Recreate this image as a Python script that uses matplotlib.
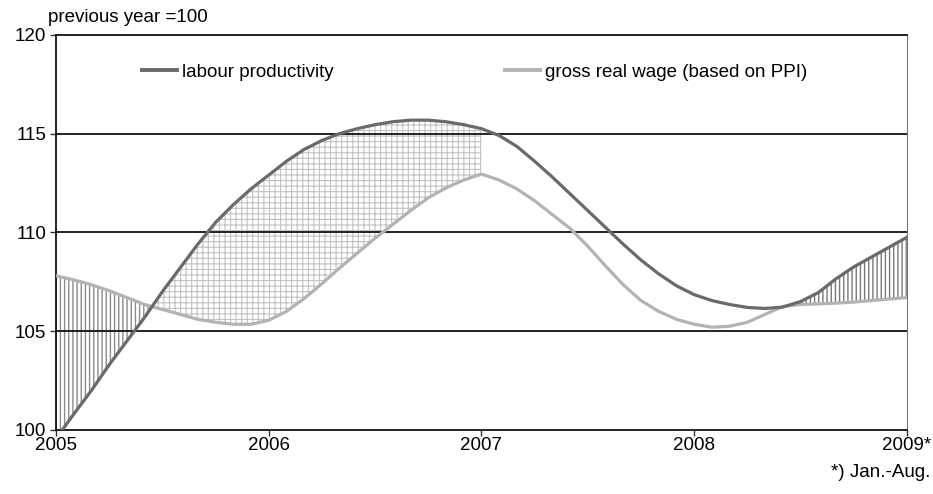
"""
Labour productivity vs. gross real wage, monthly readings 2005 - Aug 2009.
Previous year = 100. Shaded band shows the gap between the two series.
"""

import numpy as np
import matplotlib.pyplot as plt

plt.rcParams["font.family"] = ["Liberation Sans", "DejaVu Sans"]

# ---------- Data (previous year = 100), one value per month ----------

labour_productivity = [
    99.56, 100.8, 102.0, 103.3, 104.5, 105.7, 107.0, 108.2, 109.4, 110.5, 111.4, 112.2,
    112.9, 113.6, 114.2, 114.65, 115.0, 115.25, 115.45, 115.6, 115.68, 115.68, 115.6, 115.45,
    115.25, 114.9, 114.35, 113.6, 112.8, 111.95, 111.1, 110.25, 109.4, 108.6, 107.9, 107.3,
    106.85, 106.55, 106.35, 106.2, 106.15, 106.22, 106.5, 106.95, 107.65, 108.25, 108.75, 109.25,
    109.75,
]

gross_real_wage = [
    107.8, 107.6, 107.35, 107.05, 106.7, 106.35, 106.1, 105.85, 105.6, 105.45, 105.35, 105.35,
    105.55, 106.0, 106.65, 107.4, 108.2, 108.95, 109.7, 110.4, 111.1, 111.75, 112.25, 112.65,
    112.95, 112.65, 112.2, 111.6, 110.9, 110.2, 109.3, 108.3, 107.35, 106.55, 106.0, 105.6,
    105.35, 105.2, 105.25, 105.45, 105.85, 106.25, 106.35, 106.38, 106.42, 106.47, 106.55, 106.63,
    106.7,
]

year_ticks = [2005, 2006, 2007, 2008, 2009]
year_labels = ["2005", "2006", "2007", "2008", "2009*"]
value_ticks = [100, 105, 110, 115, 120]

LABOUR_COLOR = "#6a6a6a"
WAGE_COLOR = "#b3b3b3"
FS = 13.5


def plot_gap_chart(out_path="out.png"):
    lab = np.array(labour_productivity)
    wag = np.array(gross_real_wage)
    years = 2005 + np.arange(len(lab)) / 12.0

    fig = plt.figure(figsize=(9.33, 4.94), dpi=100)
    ax = fig.add_axes([0.060, 0.1296, 0.912, 0.800])

    # vertical hatch: wages ahead early in 2005, productivity pulling away in late 2008-2009
    plt.rcParams["hatch.linewidth"] = 1.0
    early = years <= 2006
    ax.fill_between(years[early], lab[early], wag[early], where=wag[early] >= lab[early],
                    interpolate=True, facecolor="none", edgecolor="#8c8c8c",
                    hatch="||||", linewidth=0, zorder=1)
    late = years >= 2008.4
    ax.fill_between(years[late], lab[late], wag[late], where=lab[late] >= wag[late],
                    interpolate=True, facecolor="none", edgecolor="#787878",
                    hatch="||||", linewidth=0, zorder=1)

    # cross hatch: productivity ahead of wages up to 2007
    plt.rcParams["hatch.linewidth"] = 0.8
    m = (years <= 2007 + 1e-9)
    ax.fill_between(years[m], lab[m], wag[m], where=lab[m] >= wag[m], interpolate=True,
                    facecolor="none", edgecolor="#c2c2c2", hatch="+++",
                    linewidth=0, zorder=1)

    # horizontal reference lines
    for v in value_ticks[1:-1]:
        ax.axhline(v, color="#111111", linewidth=1.3, zorder=2)

    l1, = ax.plot(years, lab, color=LABOUR_COLOR, linewidth=2.3, zorder=4,
                  label="labour productivity", solid_joinstyle="round")
    l2, = ax.plot(years, wag, color=WAGE_COLOR, linewidth=2.3, zorder=3,
                  label="gross real wage (based on PPI)", solid_joinstyle="round")

    ax.set_xlim(2005, 2009)
    ax.set_ylim(100, 120)
    ax.set_xticks(year_ticks)
    ax.set_xticklabels(year_labels)
    ax.set_yticks(value_ticks)
    ax.tick_params(axis="both", labelsize=FS, length=4, width=1, color="#333333")
    ax.tick_params(axis="y", pad=3)
    ax.tick_params(axis="x", pad=1)

    for side in ["left", "bottom", "top"]:
        ax.spines[side].set_color("#111111")
        ax.spines[side].set_linewidth(1.3)
    ax.spines["right"].set_color("#777777")
    ax.spines["right"].set_linewidth(0.8)

    # one legend per series so each entry sits where it belongs
    y_leg = 1 - 72 / 494
    legends = []
    for handle, x0 in [(l1, 142 / 933), (l2, 505 / 933)]:
        leg = ax.legend(handles=[handle], loc="center left",
                        bbox_to_anchor=(x0, y_leg), bbox_transform=fig.transFigure,
                        frameon=False, fontsize=FS, handlelength=1.85,
                        handletextpad=0.3, borderpad=0, borderaxespad=0)
        leg.get_lines()[0].set_linewidth(2.8)
        legends.append(leg)
    # the last one is already the axes legend; keep the first as an extra artist
    ax.add_artist(legends[0])

    fig.text(48 / 933, 1 - 17 / 494, "previous year =100", fontsize=FS,
             ha="left", va="center")
    fig.text(930 / 933, 1 - 472 / 494, "*) Jan.-Aug.", fontsize=FS,
             ha="right", va="center")

    fig.savefig(out_path, dpi=100)
    plt.close(fig)
    return out_path


def main():
    plot_gap_chart("out.png")


if __name__ == "__main__":
    main()
